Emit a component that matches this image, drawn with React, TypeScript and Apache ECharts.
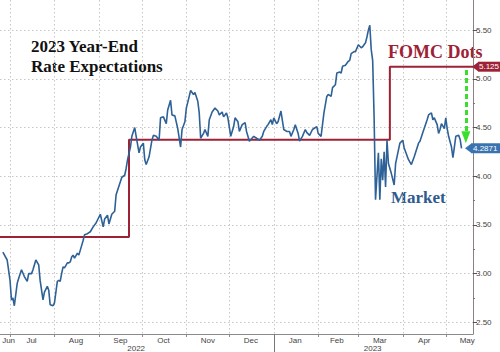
import React, { useEffect, useRef } from "react";
import * as echarts from "echarts";

const marketDates = [
  "2022-06-26","2022-06-29","2022-07-01","2022-07-02","2022-07-03","2022-07-04","2022-07-06","2022-07-07","2022-07-09","2022-07-11",
  "2022-07-13","2022-07-14","2022-07-16","2022-07-17","2022-07-19","2022-07-21","2022-07-22","2022-07-24","2022-07-25","2022-07-27",
  "2022-07-28","2022-07-29","2022-07-31","2022-08-01","2022-08-03","2022-08-04","2022-08-05","2022-08-06","2022-08-07","2022-08-08",
  "2022-08-10","2022-08-11","2022-08-12","2022-08-13","2022-08-14","2022-08-15","2022-08-17","2022-08-18","2022-08-20","2022-08-21",
  "2022-08-22","2022-08-24","2022-08-26","2022-08-28","2022-08-30","2022-09-02","2022-09-04","2022-09-05","2022-09-07","2022-09-08",
  "2022-09-10","2022-09-12","2022-09-13","2022-09-15","2022-09-17","2022-09-19","2022-09-20","2022-09-21","2022-09-23","2022-09-24",
  "2022-09-26","2022-09-27","2022-09-29","2022-09-30","2022-10-02","2022-10-03","2022-10-04","2022-10-06","2022-10-08","2022-10-09",
  "2022-10-11","2022-10-13","2022-10-14","2022-10-16","2022-10-18","2022-10-19","2022-10-21","2022-10-22","2022-10-24","2022-10-26",
  "2022-10-28","2022-10-29","2022-10-31","2022-11-01","2022-11-03","2022-11-04","2022-11-06","2022-11-07","2022-11-09","2022-11-10",
  "2022-11-11","2022-11-13","2022-11-14","2022-11-16","2022-11-17","2022-11-19","2022-11-21","2022-11-23","2022-11-24","2022-11-26",
  "2022-11-27","2022-11-29","2022-11-30","2022-12-02","2022-12-04","2022-12-05","2022-12-07","2022-12-08","2022-12-10","2022-12-12",
  "2022-12-13","2022-12-15","2022-12-18","2022-12-20","2022-12-22","2022-12-24","2022-12-25","2022-12-27","2022-12-28","2022-12-30",
  "2022-12-31","2023-01-01","2023-01-03","2023-01-04","2023-01-06","2023-01-08","2023-01-10","2023-01-12","2023-01-13","2023-01-15",
  "2023-01-16","2023-01-18","2023-01-19","2023-01-21","2023-01-23","2023-01-24","2023-01-26","2023-01-28","2023-01-29","2023-01-31",
  "2023-02-01","2023-02-03","2023-02-05","2023-02-07","2023-02-08","2023-02-10","2023-02-11","2023-02-13","2023-02-14","2023-02-16",
  "2023-02-17","2023-02-18","2023-02-20","2023-02-22","2023-02-23","2023-02-24","2023-02-26","2023-02-27","2023-03-01","2023-03-03",
  "2023-03-04","2023-03-06","2023-03-07","2023-03-08","2023-03-09","2023-03-10","2023-03-11","2023-03-12","2023-03-13","2023-03-15",
  "2023-03-16","2023-03-17","2023-03-18","2023-03-19","2023-03-20","2023-03-21","2023-03-22","2023-03-24","2023-03-26","2023-03-27",
  "2023-03-29","2023-03-30","2023-04-01","2023-04-02","2023-04-05","2023-04-07","2023-04-09","2023-04-12","2023-04-13","2023-04-15",
  "2023-04-18","2023-04-19","2023-04-21","2023-04-22","2023-04-23","2023-04-25","2023-04-26","2023-04-27","2023-04-28","2023-04-30",
  "2023-05-01","2023-05-02","2023-05-03","2023-05-05","2023-05-06","2023-05-07","2023-05-08","2023-05-10","2023-05-11","2023-05-12",
];

const marketValues = [
  3.22, 3.14, 2.93, 2.73, 2.75, 2.67, 2.90, 2.95, 3.04, 2.97,
  2.92, 3.00, 3.00, 3.04, 3.14, 3.09, 2.93, 2.73, 2.81, 2.87,
  2.83, 2.68, 2.67, 2.70, 2.92, 2.93, 2.92, 3.00, 3.07, 3.06,
  3.11, 3.11, 3.12, 3.17, 3.19, 3.16, 3.21, 3.19, 3.29, 3.34,
  3.40, 3.41, 3.43, 3.48, 3.52, 3.61, 3.48, 3.56, 3.60, 3.51,
  3.61, 3.64, 3.81, 3.90, 3.99, 4.01, 4.08, 4.17, 4.30, 4.41,
  4.50, 4.41, 4.24, 4.30, 4.34, 4.17, 4.12, 4.20, 4.37, 4.42,
  4.41, 4.37, 4.60, 4.61, 4.54, 4.68, 4.78, 4.63, 4.62, 4.49,
  4.30, 4.48, 4.56, 4.70, 4.82, 4.88, 4.84, 4.86, 4.77, 4.65,
  4.39, 4.44, 4.48, 4.41, 4.58, 4.66, 4.70, 4.67, 4.63, 4.66,
  4.61, 4.65, 4.60, 4.41, 4.51, 4.60, 4.56, 4.46, 4.53, 4.55,
  4.46, 4.36, 4.41, 4.39, 4.37, 4.41, 4.46, 4.51, 4.53, 4.58,
  4.53, 4.60, 4.54, 4.56, 4.67, 4.48, 4.46, 4.46, 4.41, 4.48,
  4.53, 4.44, 4.36, 4.41, 4.48, 4.45, 4.42, 4.48, 4.49, 4.51,
  4.44, 4.41, 4.65, 4.82, 4.84, 4.82, 4.91, 4.94, 5.06, 5.07,
  5.06, 5.13, 5.14, 5.18, 5.19, 5.26, 5.28, 5.28, 5.35, 5.32,
  5.33, 5.37, 5.43, 5.50, 5.55, 5.30, 5.19, 4.61, 3.76, 4.24,
  3.76, 4.18, 3.96, 4.25, 3.89, 4.37, 4.13, 4.03, 3.91, 4.13,
  4.27, 4.34, 4.37, 4.29, 4.17, 4.12, 4.20, 4.34, 4.36, 4.45,
  4.58, 4.63, 4.65, 4.58, 4.60, 4.53, 4.44, 4.48, 4.54, 4.49,
  4.60, 4.49, 4.41, 4.30, 4.19, 4.30, 4.41, 4.42, 4.38, 4.2871,
];

const fomcDates = ["2022-06-24", "2022-09-22", "2023-03-23", "2023-05-20"];
const fomcValues = [3.375, 4.375, 5.125, 5.125];

const monthStarts = [
  "2022-07-01","2022-08-01","2022-09-01","2022-10-01","2022-11-01","2022-12-01",
  "2023-01-01","2023-02-01","2023-03-01","2023-04-01","2023-05-01",
];
const monthLabelDates = [
  "2022-06-30","2022-07-16","2022-08-16","2022-09-16","2022-10-16","2022-11-16",
  "2022-12-16","2023-01-16","2023-02-14","2023-03-16","2023-04-16","2023-05-16",
];
const monthNames = ["Jan","Feb","Mar","Apr","May","Jun","Jul","Aug","Sep","Oct","Nov","Dec"];
const yearLabelDates = ["2022-09-27", "2023-03-11"];
const yearBreakDates = ["2023-01-01"];

const yTicks = [2.5, 3.0, 3.5, 4.0, 4.5, 5.0, 5.5];
const yMinorTicks = [2.75, 3.25, 3.75, 4.25, 4.75, 5.25];

const xMinDate = "2022-06-24";
const xMaxDate = "2023-05-20";
const yMin = 2.38;
const yMax = 5.81;

const fomcLast = 5.125;
const marketLast = 4.2871;
const gapArrowDate = "2023-05-15";
const gapArrowFrom = 5.09;
const gapArrowTo = 4.40;

const t = (s: string) => new Date(s + "T00:00:00").getTime();

const BLUE = "#2e6197";
const RED = "#9d2236";
const GRID = "#c6c6c6";
const LABEL_FONT = "Liberation Sans";

export default function App() {
  const ref = useRef<HTMLDivElement>(null);

  useEffect(() => {
    if (!ref.current) return;
    const chart = echarts.init(ref.current, undefined, { renderer: "svg" });
    const xMin = t(xMinDate);
    const xMax = t(xMaxDate);

    const option: any = {
      animation: false,
      backgroundColor: "#ffffff",
      grid: {
        left: 0,
        right: 27,
        top: 0,
        bottom: 18,
        containLabel: false,
        outerBoundsMode: "none",
      },
      xAxis: [
        {
          type: "value",
          position: "bottom",
          min: xMin,
          max: xMax,
          axisLine: { show: true, lineStyle: { color: "#8a8a8a", width: 1 } },
          axisTick: {
            show: true,
            customValues: monthStarts.map(t),
            length: 3,
            lineStyle: { color: "#8a8a8a" },
          },
          axisLabel: {
            show: true,
            customValues: monthLabelDates.map(t),
            formatter: (v: number) => monthNames[new Date(v).getMonth()],
            fontSize: 8,
            color: "#444",
            margin: 2,
            fontFamily: LABEL_FONT,
            showMinLabel: true,
            showMaxLabel: true,
          },
          splitLine: { show: true, lineStyle: { color: GRID, type: [1.5, 2.5], width: 1 } },
        },
        {
          type: "value",
          position: "bottom",
          min: xMin,
          max: xMax,
          axisLine: { show: false },
          axisTick: {
            show: true,
            customValues: yearBreakDates.map(t),
            length: 18,
            lineStyle: { color: "#777" },
          },
          axisLabel: {
            show: true,
            customValues: yearLabelDates.map(t),
            formatter: (v: number) => String(new Date(v).getFullYear()),
            fontSize: 8,
            color: "#444",
            margin: 10,
            fontFamily: LABEL_FONT,
          },
          splitLine: { show: false },
        },
      ],
      yAxis: [
        {
          type: "value",
          position: "right",
          min: yMin,
          max: yMax,
          axisLine: { show: true, lineStyle: { color: "#8d7f87", width: 1 } },
          axisTick: {
            show: true,
            customValues: yTicks,
            length: 4,
            lineStyle: { color: "#555" },
          },
          axisLabel: {
            show: true,
            customValues: yTicks,
            formatter: (v: number) => v.toFixed(2),
            fontSize: 8,
            color: "#444",
            margin: 3,
            fontFamily: LABEL_FONT,
          },
          splitLine: { show: true, lineStyle: { color: GRID, type: [1.5, 2.5], width: 1 } },
        },
        {
          type: "value",
          position: "right",
          min: yMin,
          max: yMax,
          axisLine: { show: false },
          axisTick: {
            show: true,
            customValues: yMinorTicks,
            length: 2,
            lineStyle: { color: "#777" },
          },
          axisLabel: { show: false },
          splitLine: { show: false },
        },
      ],
      series: [
        {
          name: "FOMC Dots",
          type: "line",
          xAxisIndex: 0,
          yAxisIndex: 0,
          step: "end",
          showSymbol: false,
          symbol: "none",
          lineStyle: { color: RED, width: 2 },
          data: fomcDates.map((d, i) => [t(d), fomcValues[i]]),
          markPoint: {
            silent: true,
            symbol: "path://M0,5L6,0L6,10Z",
            symbolSize: [6, 9],
            symbolOffset: [2, 0],
            itemStyle: { color: RED },
            label: {
              show: true,
              position: "right",
              distance: 0,
              formatter: String(fomcLast),
              color: "#fff",
              backgroundColor: RED,
              padding: [1, 5, 0, 1],
              fontSize: 8,
              lineHeight: 9,
              fontFamily: LABEL_FONT,
            },
            data: [{ coord: [xMax, fomcLast], value: fomcLast }],
          },
          z: 2,
        },
        {
          name: "Market",
          type: "line",
          xAxisIndex: 0,
          yAxisIndex: 0,
          showSymbol: false,
          symbol: "none",
          lineStyle: { color: BLUE, width: 1.6 },
          data: marketDates.map((d, i) => [t(d), marketValues[i]]),
          markPoint: {
            silent: true,
            symbol: "path://M0,5L6,0L6,10Z",
            symbolSize: [6, 9],
            symbolOffset: [-5, 0],
            itemStyle: { color: "#3a74b0" },
            label: {
              show: true,
              position: "right",
              distance: 0,
              formatter: String(marketLast),
              color: "#fff",
              backgroundColor: "#3a74b0",
              padding: [1, 4, 0, 2],
              fontSize: 8,
              lineHeight: 9,
              fontFamily: LABEL_FONT,
            },
            data: [{ coord: [xMax, marketLast], value: marketLast }],
          },
          markLine: {
            silent: true,
            symbol: ["none", "triangle"],
            symbolSize: [9, 12],
            label: { show: false },
            lineStyle: { color: "#38e02c", width: 3, type: [5, 3] },
            emphasis: { disabled: true },
            data: [
              [
                { coord: [t(gapArrowDate), gapArrowFrom] },
                { coord: [t(gapArrowDate), gapArrowTo] },
              ],
            ],
          },
          z: 3,
        },
      ],
      graphic: [
        {
          type: "text",
          x: 31,
          y: 46,
          style: {
            text: "2023 Year-End",
            font: 'bold 17px "Liberation Serif"',
            fill: "#111",
            verticalAlign: "middle",
          },
        },
        {
          type: "text",
          x: 31,
          y: 66.5,
          style: {
            text: "Rate Expectations",
            font: 'bold 17px "Liberation Serif"',
            fill: "#111",
            verticalAlign: "middle",
          },
        },
        {
          type: "text",
          x: 388,
          y: 52,
          style: {
            text: "FOMC Dots",
            font: 'bold 18px "Liberation Serif"',
            fill: RED,
            verticalAlign: "middle",
          },
        },
        {
          type: "text",
          x: 391,
          y: 197,
          style: {
            text: "Market",
            font: 'bold 17px "Liberation Serif"',
            fill: "#2d5b8e",
            verticalAlign: "middle",
          },
        },
      ],
    };

    chart.setOption(option);
    return () => chart.dispose();
  }, []);

  return (
    <div
      ref={ref}
      style={{ position: "absolute", left: 0, top: 0, width: 500, height: 352, background: "#fff" }}
    />
  );
}
